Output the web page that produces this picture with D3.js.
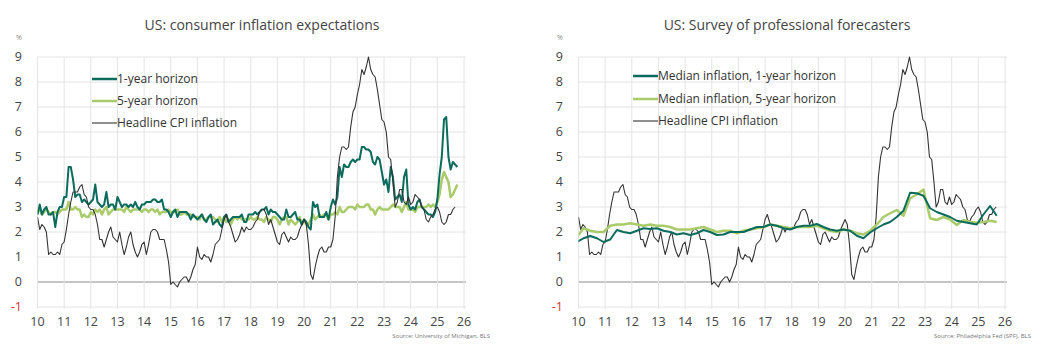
<!DOCTYPE html>
<meta charset="utf-8">
<title>US inflation expectations</title>
<style>
body {
  margin: 0;
  background: #fff;
  font-family: "Open Sans", sans-serif;
}
.grid line {
  stroke: #e4e4e4;
  stroke-width: 1px;
}
.tick-label {
  font-size: 12.5px;
  fill: #444;
}
.title {
  font-size: 14px;
  fill: #444;
}
.legend text {
  font-size: 12px;
  fill: #333;
}
.source {
  font-size: 6px;
  fill: #777;
}
</style>
<body>
<svg id="chart" width="1044" height="363"></svg>

<script src="https://cdn.jsdelivr.net/npm/d3@7/dist/d3.min.js"></script>
<script>
// ---- data ----
const yearTicks = d3.range(10, 27);            // 2010 .. 2026, shown as two digits
const valueTicks = d3.range(-1, 10);           // -1 .. 9 %

// US headline CPI, % y/y, monthly Jan 2010 .. Sep 2025
const cpi = [
  2.6, 2.1, 2.3, 2.2, 2.0, 1.1, 1.2, 1.1, 1.1, 1.2, 1.1, 1.5,
  1.6, 2.1, 2.7, 3.2, 3.6, 3.6, 3.6, 3.8, 3.9, 3.5, 3.4, 3.0,
  2.9, 2.9, 2.7, 2.3, 1.7, 1.7, 1.4, 1.7, 2.0, 2.2, 1.8, 1.7,
  1.6, 2.0, 1.5, 1.1, 1.4, 1.8, 2.0, 1.5, 1.2, 1.0, 1.2, 1.5,
  1.6, 1.1, 1.5, 2.0, 2.1, 2.1, 2.0, 1.7, 1.7, 1.7, 1.3, 0.8,
  -0.1, 0.0, -0.1, -0.2, 0.0, 0.1, 0.2, 0.2, 0.0, 0.2, 0.5, 0.7,
  1.4, 1.0, 0.9, 1.1, 1.0, 1.0, 0.8, 1.1, 1.5, 1.6, 1.7, 2.1,
  2.5, 2.7, 2.4, 2.2, 1.9, 1.6, 1.7, 1.9, 2.2, 2.0, 2.2, 2.1,
  2.1, 2.2, 2.4, 2.5, 2.8, 2.9, 2.9, 2.7, 2.3, 2.5, 2.2, 1.9,
  1.6, 1.5, 1.9, 2.0, 1.8, 1.6, 1.8, 1.7, 1.7, 1.8, 2.1, 2.3,
  2.5, 2.3, 1.5, 0.3, 0.1, 0.6, 1.0, 1.3, 1.4, 1.2, 1.2, 1.4,
  1.4, 1.7, 2.6, 4.2, 5.0, 5.4, 5.4, 5.3, 5.4, 6.2, 6.8, 7.0,
  7.5, 7.9, 8.5, 8.3, 8.6, 9.0, 8.5, 8.3, 8.2, 7.7, 7.1, 6.5,
  6.4, 6.0, 5.0, 4.9, 4.0, 3.0, 3.2, 3.7, 3.7, 3.2, 3.1, 3.4,
  3.1, 3.2, 3.5, 3.4, 3.3, 3.0, 2.9, 2.5, 2.4, 2.6, 2.7, 2.9,
  3.0, 2.8, 2.4, 2.3, 2.4, 2.7, 2.7, 2.9, 3.0
];

// University of Michigan, 1-year ahead expectations, monthly Jan 2010 .. Oct 2025
const umich1y = [
  2.7, 3.1, 2.7, 2.9, 3.0, 2.7, 2.7, 2.8, 2.2, 2.8, 3.0, 3.0,
  3.4, 3.4, 4.6, 4.6, 4.1, 3.4, 3.5, 3.5, 3.2, 3.3, 3.2, 3.1,
  3.2, 3.3, 3.9, 3.2, 3.1, 3.0, 3.1, 3.6, 3.0, 3.1, 3.1, 2.9,
  3.4, 3.2, 3.0, 3.1, 3.1, 3.0, 3.1, 3.0, 3.2, 3.0, 2.9, 3.1,
  3.1, 3.2, 3.2, 3.2, 3.3, 3.3, 3.2, 3.2, 3.3, 2.9, 2.9, 2.8,
  2.6, 2.8, 2.9, 2.6, 2.8, 2.8, 2.8, 2.8, 2.7, 2.5, 2.7, 2.6,
  2.5, 2.6, 2.7, 2.5, 2.4, 2.6, 2.7, 2.3, 2.4, 2.5, 2.3, 2.2,
  2.6, 2.7, 2.4, 2.5, 2.6, 2.6, 2.6, 2.6, 2.7, 2.4, 2.4, 2.7,
  2.7, 2.7, 2.8, 2.7, 2.8, 2.9, 2.9, 3.0, 2.7, 2.9, 2.8, 2.8,
  2.7, 2.6, 2.5, 2.5, 2.9, 2.6, 2.6, 2.7, 2.8, 2.5, 2.5, 2.3,
  2.5, 2.4, 2.2, 2.1, 3.2, 3.0, 3.1, 2.6, 2.6, 2.6, 2.8, 2.5,
  3.0, 3.3, 3.1, 3.4, 4.6, 4.2, 4.7, 4.6, 4.6, 4.8, 4.9, 4.8,
  4.9, 4.9, 5.4, 5.4, 5.3, 5.3, 5.2, 4.8, 4.7, 5.0, 4.9, 4.4,
  3.9, 4.1, 3.6, 4.6, 4.2, 3.3, 3.4, 3.5, 3.2, 4.2, 4.5, 3.1,
  2.9, 3.0, 2.9, 3.2, 3.3, 3.0, 2.9, 2.8, 2.7, 2.7, 2.6, 2.8,
  3.3, 4.3, 5.0, 6.5, 6.6, 5.0, 4.5, 4.8, 4.7, 4.6
];

// University of Michigan, 5-10 year ahead expectations, monthly Jan 2010 .. Oct 2025
const umich5y = [
  2.8, 2.9, 2.7, 2.8, 2.9, 2.8, 2.7, 2.8, 2.8, 2.7, 2.8, 2.9,
  2.9, 2.9, 3.2, 2.9, 2.9, 3.0, 2.9, 2.9, 2.6, 2.7, 2.6, 2.6,
  2.8, 2.7, 2.9, 2.8, 2.9, 2.7, 2.9, 3.0, 2.7, 2.8, 2.9, 2.9,
  2.9, 2.9, 2.9, 2.8, 3.0, 2.9, 2.8, 2.9, 2.9, 2.9, 2.9, 2.8,
  2.9, 2.9, 2.8, 2.9, 2.9, 2.8, 2.9, 2.7, 2.8, 2.8, 2.8, 2.9,
  2.8, 2.8, 2.8, 2.9, 2.7, 2.7, 2.8, 2.7, 2.7, 2.7, 2.6, 2.6,
  2.6, 2.5, 2.7, 2.5, 2.5, 2.6, 2.6, 2.6, 2.5, 2.4, 2.6, 2.4,
  2.6, 2.4, 2.5, 2.3, 2.5, 2.6, 2.5, 2.6, 2.5, 2.5, 2.5, 2.5,
  2.6, 2.5, 2.5, 2.6, 2.5, 2.5, 2.4, 2.6, 2.5, 2.4, 2.6, 2.6,
  2.5, 2.3, 2.5, 2.6, 2.6, 2.3, 2.5, 2.4, 2.3, 2.4, 2.6, 2.3,
  2.5, 2.3, 2.3, 2.5, 2.7, 2.5, 2.6, 2.7, 2.6, 2.7, 2.7, 2.5,
  2.7, 2.7, 2.8, 2.7, 3.0, 2.8, 2.8, 2.9, 3.0, 3.0, 3.0, 2.9,
  3.1, 3.0, 3.0, 3.0, 3.1, 3.1, 2.9, 2.9, 2.7, 2.9, 3.0, 2.9,
  2.9, 2.9, 2.9, 3.0, 3.1, 3.0, 3.0, 3.0, 2.8, 3.0, 3.2, 2.9,
  2.9, 2.9, 2.8, 3.0, 3.0, 3.0, 3.0, 3.0, 3.1, 3.0, 3.1, 3.0,
  3.2, 3.5, 4.1, 4.4, 4.2, 4.0, 3.4, 3.5, 3.7, 3.9
];

// Philadelphia Fed SPF, median CPI inflation, quarterly surveys 2009Q4 .. 2025Q3
const spf1y = [
  1.6,
  1.75, 1.84, 1.75, 1.6,
  1.7, 2.08, 2.0, 1.95,
  2.05, 2.15, 2.12, 2.15,
  2.05, 2.0, 1.9, 1.95,
  1.88, 1.95, 2.08, 2.0,
  1.88, 1.9, 2.0, 2.0,
  2.0, 2.1, 2.2, 2.2,
  2.3, 2.25, 2.15, 2.1,
  2.2, 2.25, 2.25, 2.32,
  2.2, 2.1, 2.05, 2.1,
  2.05, 1.85, 1.75, 1.98,
  2.15, 2.3, 2.4, 2.6,
  2.85, 3.57, 3.55, 3.45,
  2.95, 2.8, 2.7, 2.6,
  2.45, 2.4, 2.35, 2.3,
  2.7, 3.04, 2.65
];
const spf5y = [
  1.8,
  2.15, 2.05, 2.0, 2.0,
  2.25, 2.3, 2.3, 2.35,
  2.3, 2.25, 2.3, 2.25,
  2.25, 2.2, 2.1, 2.1,
  2.1, 2.15, 2.2, 2.1,
  2.0, 2.05, 2.05, 1.95,
  2.05, 2.1, 2.15, 2.2,
  2.3, 2.25, 2.2, 2.15,
  2.2, 2.2, 2.2, 2.25,
  2.15, 2.05, 2.0, 2.1,
  2.05, 1.95, 1.9, 2.05,
  2.3, 2.6, 2.75, 2.88,
  2.65, 3.35, 3.5, 3.7,
  2.55, 2.48, 2.6, 2.5,
  2.28, 2.48, 2.4, 2.37,
  2.4, 2.45, 2.4
];

// time in two-digit years
const monthly = (vals) => vals.map((v, i) => ({ t: 10 + i / 12, v }));
const quarterly = (vals) => vals.map((v, i) => ({ t: 9.94 + i * 0.25, v }));

const teal = "#0b6b5d";
const green = "#a9cb6a";
const dark = "#333333";

const charts = [
  {
    left: 37.5, right: 464, labelX: 22, pctX: 19,
    title: "US: consumer inflation expectations", titleX: 262,
    source: "Source: University of Michigan, BLS", sourceX: 490,
    legendX: 92, legendY: [79, 101, 123],
    series: [
      { name: "1-year horizon", data: monthly(umich1y), color: teal, width: 2 },
      { name: "5-year horizon", data: monthly(umich5y), color: green, width: 2.5 },
      { name: "Headline CPI inflation", data: monthly(cpi), color: dark, width: 1.1 }
    ],
    order: [1, 0, 2]
  },
  {
    left: 578.5, right: 1005, labelX: 563, pctX: 560,
    title: "US: Survey of professional forecasters", titleX: 787,
    source: "Source: Philadelphia Fed (SPF), BLS", sourceX: 1031,
    legendX: 633, legendY: [76, 99, 121],
    series: [
      { name: "Median inflation, 1-year horizon", data: quarterly(spf1y), color: teal, width: 2 },
      { name: "Median inflation, 5-year horizon", data: quarterly(spf5y), color: green, width: 2.5 },
      { name: "Headline CPI inflation", data: monthly(cpi), color: dark, width: 1.1 }
    ],
    order: [2, 1, 0]
  }
];

const svg = d3.select("#chart");
const plotTop = 57, plotBottom = 307;

charts.forEach((c, ci) => {
  const x = d3.scaleLinear().domain([10, 26]).range([c.left, c.right]);
  const y = d3.scaleLinear().domain([-1, 9]).range([plotBottom, plotTop]);
  const g = svg.append("g");

  // grid
  const grid = g.append("g").attr("class", "grid");
  grid.selectAll("line.h")
    .data(valueTicks)
    .enter().append("line")
      .attr("x1", c.left).attr("x2", c.right + 2)
      .attr("y1", d => y(d)).attr("y2", d => y(d))
      .style("stroke", d => d === 0 ? "#8a8a8a" : null);
  grid.selectAll("line.v")
    .data(yearTicks)
    .enter().append("line")
      .attr("x1", d => x(d)).attr("x2", d => x(d))
      .attr("y1", plotTop).attr("y2", plotBottom + 2);

  // axis labels
  g.selectAll("text.ylab")
    .data(valueTicks)
    .enter().append("text")
      .attr("class", "tick-label")
      .attr("x", c.labelX)
      .attr("y", d => y(d))
      .attr("dy", "0.35em")
      .attr("text-anchor", "end")
      .style("fill", d => d < 0 ? "#d9342b" : null)
      .text(d => d);
  g.selectAll("text.xlab")
    .data(yearTicks)
    .enter().append("text")
      .attr("class", "tick-label")
      .attr("x", d => x(d))
      .attr("y", 326)
      .attr("text-anchor", "middle")
      .text(d => d);

  g.append("text")
    .attr("x", c.pctX).attr("y", 40)
    .attr("text-anchor", "middle")
    .style("font-size", "7px").style("fill", "#888")
    .text("%");

  g.append("text")
    .attr("class", "title")
    .attr("x", c.titleX).attr("y", 30)
    .attr("text-anchor", "middle")
    .text(c.title);

  g.append("text")
    .attr("class", "source")
    .attr("x", c.sourceX).attr("y", 338)
    .attr("text-anchor", "end")
    .text(c.source);

  // lines
  const clipId = "clip" + ci;
  g.append("clipPath").attr("id", clipId)
    .append("rect")
      .attr("x", c.left).attr("y", 0)
      .attr("width", c.right - c.left + 2).attr("height", 363);

  const line = d3.line().x(d => x(d.t)).y(d => y(d.v));
  const lines = g.append("g").attr("clip-path", `url(#${clipId})`);
  c.order.forEach(k => {
    const s = c.series[k];
    lines.append("path")
      .datum(s.data)
      .attr("fill", "none")
      .attr("stroke", s.color)
      .attr("stroke-width", s.width)
      .attr("stroke-linejoin", "round")
      .attr("d", line);
  });

  // legend
  const lg = g.append("g").attr("class", "legend");
  c.series.forEach((s, i) => {
    const ly = c.legendY[i];
    lg.append("line")
      .attr("x1", c.legendX).attr("x2", c.legendX + 25)
      .attr("y1", ly).attr("y2", ly)
      .attr("stroke", s.color)
      .attr("stroke-width", s.width === 1.1 ? 1.1 : 2.5);
    lg.append("text")
      .attr("x", c.legendX + 25).attr("y", ly)
      .attr("dy", "0.35em")
      .text(s.name);
  });
});
</script>
</body>
